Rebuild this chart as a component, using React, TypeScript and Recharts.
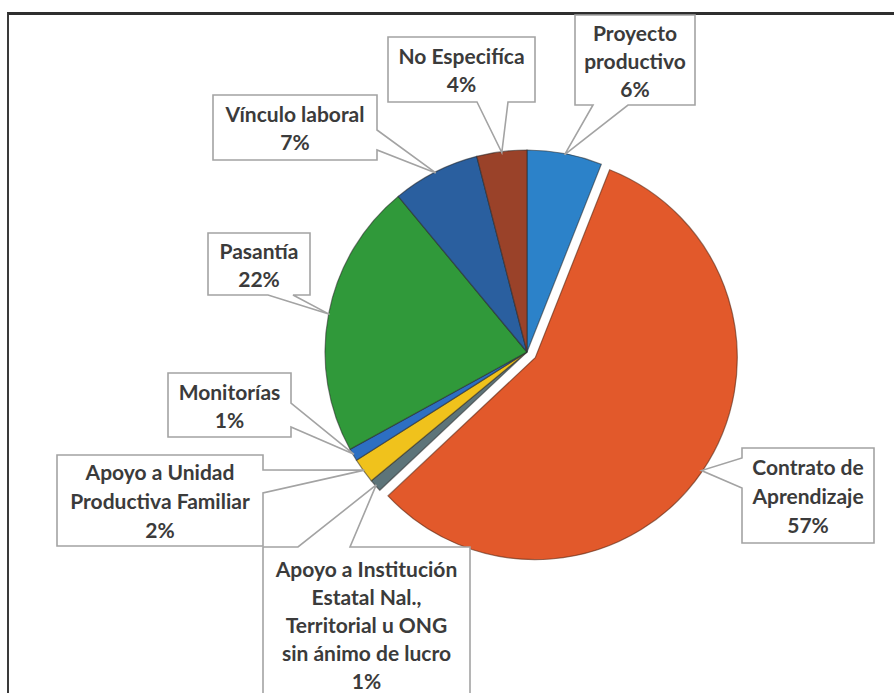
import { PieChart, Pie, Cell } from 'recharts'

const NAMES = [
  'Proyecto productivo',
  'Contrato de Aprendizaje',
  'Apoyo a Institución Estatal Nal., Territorial u ONG sin ánimo de lucro',
  'Apoyo a Unidad Productiva Familiar',
  'Monitorías',
  'Pasantía',
  'Vínculo laboral',
  'No Especifíca',
]
const VALUES = [6, 57, 1, 2, 1, 22, 7, 4]
const LABEL_LINES = [
  ['Proyecto', 'productivo'],
  ['Contrato de', 'Aprendizaje'],
  ['Apoyo a Institución', 'Estatal Nal.,', 'Territorial u ONG', 'sin ánimo de lucro'],
  ['Apoyo a Unidad', 'Productiva Familiar'],
  ['Monitorías'],
  ['Pasantía'],
  ['Vínculo laboral'],
  ['No Especifíca'],
]
const COLORS = ['#2c82c9', '#e2592b', '#5d7479', '#f0c21c', '#2d6fc2', '#30993a', '#2a5f9f', '#9a4229']

const EXPLODED = 1
const EXPLODE_DIST = 10

// callout boxes, placed by hand like the original
const CALLOUTS = [
  { x: 575, y: 15, w: 120, h: 90, side: 'bottom', a: 593, b: 628, step: 28 },
  { x: 742, y: 448, w: 132, h: 95, side: 'left', a: 458, b: 488, step: 29 },
  { x: 263, y: 547, w: 207, h: 154, side: 'top', a: 298, b: 350, step: 28 },
  { x: 57, y: 455, w: 206, h: 91, side: 'right', a: 470, b: 493, step: 29 },
  { x: 168, y: 373, w: 123, h: 64, side: 'right', a: 403, b: 427, step: 28 },
  { x: 208, y: 233, w: 102, h: 62, side: 'bottom', a: 268, b: 293, step: 28 },
  { x: 213, y: 95, w: 164, h: 65, side: 'right', a: 130, b: 150, step: 28 },
  { x: 388, y: 37, w: 147, h: 65, side: 'bottom', a: 477, b: 508, step: 28 },
]

const data = NAMES.map((name, i) => ({ name, value: VALUES[i] }))

const total = VALUES.reduce((s, v) => s + v, 0)
const before = VALUES.slice(0, EXPLODED).reduce((s, v) => s + v, 0)
const midFrac = (before + VALUES[EXPLODED] / 2) / total
const explodeDx = Math.sin(midFrac * 2 * Math.PI) * EXPLODE_DIST
const explodeDy = -Math.cos(midFrac * 2 * Math.PI) * EXPLODE_DIST

const CX = 527
const CY = 352
const R = 202
const RAD = Math.PI / 180

function calloutPath(c: any, ax: number, ay: number) {
  const { x, y, w, h, a, b } = c
  const r = x + w, btm = y + h
  if (c.side === 'bottom') return `M${x},${y} H${r} V${btm} H${b} L${ax},${ay} L${a},${btm} H${x} Z`
  if (c.side === 'top') return `M${x},${y} H${a} L${ax},${ay} L${b},${y} H${r} V${btm} H${x} Z`
  if (c.side === 'right') return `M${x},${y} H${r} V${a} L${ax},${ay} L${r},${b} V${btm} H${x} Z`
  return `M${x},${y} H${r} V${btm} H${x} V${b} L${ax},${ay} L${x},${a} Z`
}

const renderCallout = (p: any) => {
  const i = p.index
  const c = CALLOUTS[i]
  const ex = i === EXPLODED ? explodeDx : 0
  const ey = i === EXPLODED ? explodeDy : 0
  const ax = p.cx + (p.outerRadius - 1) * Math.cos(-p.midAngle * RAD) + ex
  const ay = p.cy + (p.outerRadius - 1) * Math.sin(-p.midAngle * RAD) + ey
  const lines = [...LABEL_LINES[i], `${Math.round(p.percent * 100)}%`]
  const midY = c.y + c.h / 2
  const y0 = midY - ((lines.length - 1) * c.step) / 2
  return (
    <g key={`callout-${i}`}>
      <path d={calloutPath(c, ax, ay)} fill="#fff" stroke="#a3a3a3" strokeWidth={1.6} />
      {lines.map((t, k) => (
        <text key={k} x={c.x + c.w / 2} y={y0 + k * c.step} textAnchor="middle" dominantBaseline="central"
          fontFamily="Lato, 'Open Sans', sans-serif" fontWeight={700} fontSize={21} fill="#3b3b3b">
          {t}
        </text>
      ))}
    </g>
  )
}

export default function App() {
  return (
    <div style={{ position: 'absolute', left: 0, top: 0, width: 894, height: 693, background: '#fff', overflow: 'hidden' }}>
      <div style={{ position: 'absolute', left: 7, top: 12, width: 900, height: 700, borderTop: '3px solid #2e2e2e', borderLeft: '2px solid #3a3a3a' }} />
      <div style={{ position: 'absolute', left: 0, top: 0 }}>
        <PieChart width={894} height={693} margin={{ top: 0, right: 0, bottom: 0, left: 0 }}>
          <Pie data={data} dataKey="value" nameKey="name" cx={CX} cy={CY} outerRadius={R}
            startAngle={90} endAngle={-270} isAnimationActive={false}
            label={renderCallout} labelLine={false}>
            {data.map((d, i) => (
              <Cell key={d.name} fill={i === EXPLODED ? 'none' : COLORS[i]}
                stroke={i === EXPLODED ? 'none' : 'rgba(40,40,40,0.55)'} strokeWidth={1.2} />
            ))}
          </Pie>
          <Pie data={data} dataKey="value" nameKey="name" cx={CX + explodeDx} cy={CY + explodeDy} outerRadius={R}
            startAngle={90} endAngle={-270} isAnimationActive={false} label={false} labelLine={false}>
            {data.map((d, i) => (
              <Cell key={d.name} fill={i === EXPLODED ? COLORS[i] : 'none'}
                stroke={i === EXPLODED ? 'rgba(90,40,20,0.6)' : 'none'} strokeWidth={1.2} />
            ))}
          </Pie>
        </PieChart>
      </div>
    </div>
  )
}
